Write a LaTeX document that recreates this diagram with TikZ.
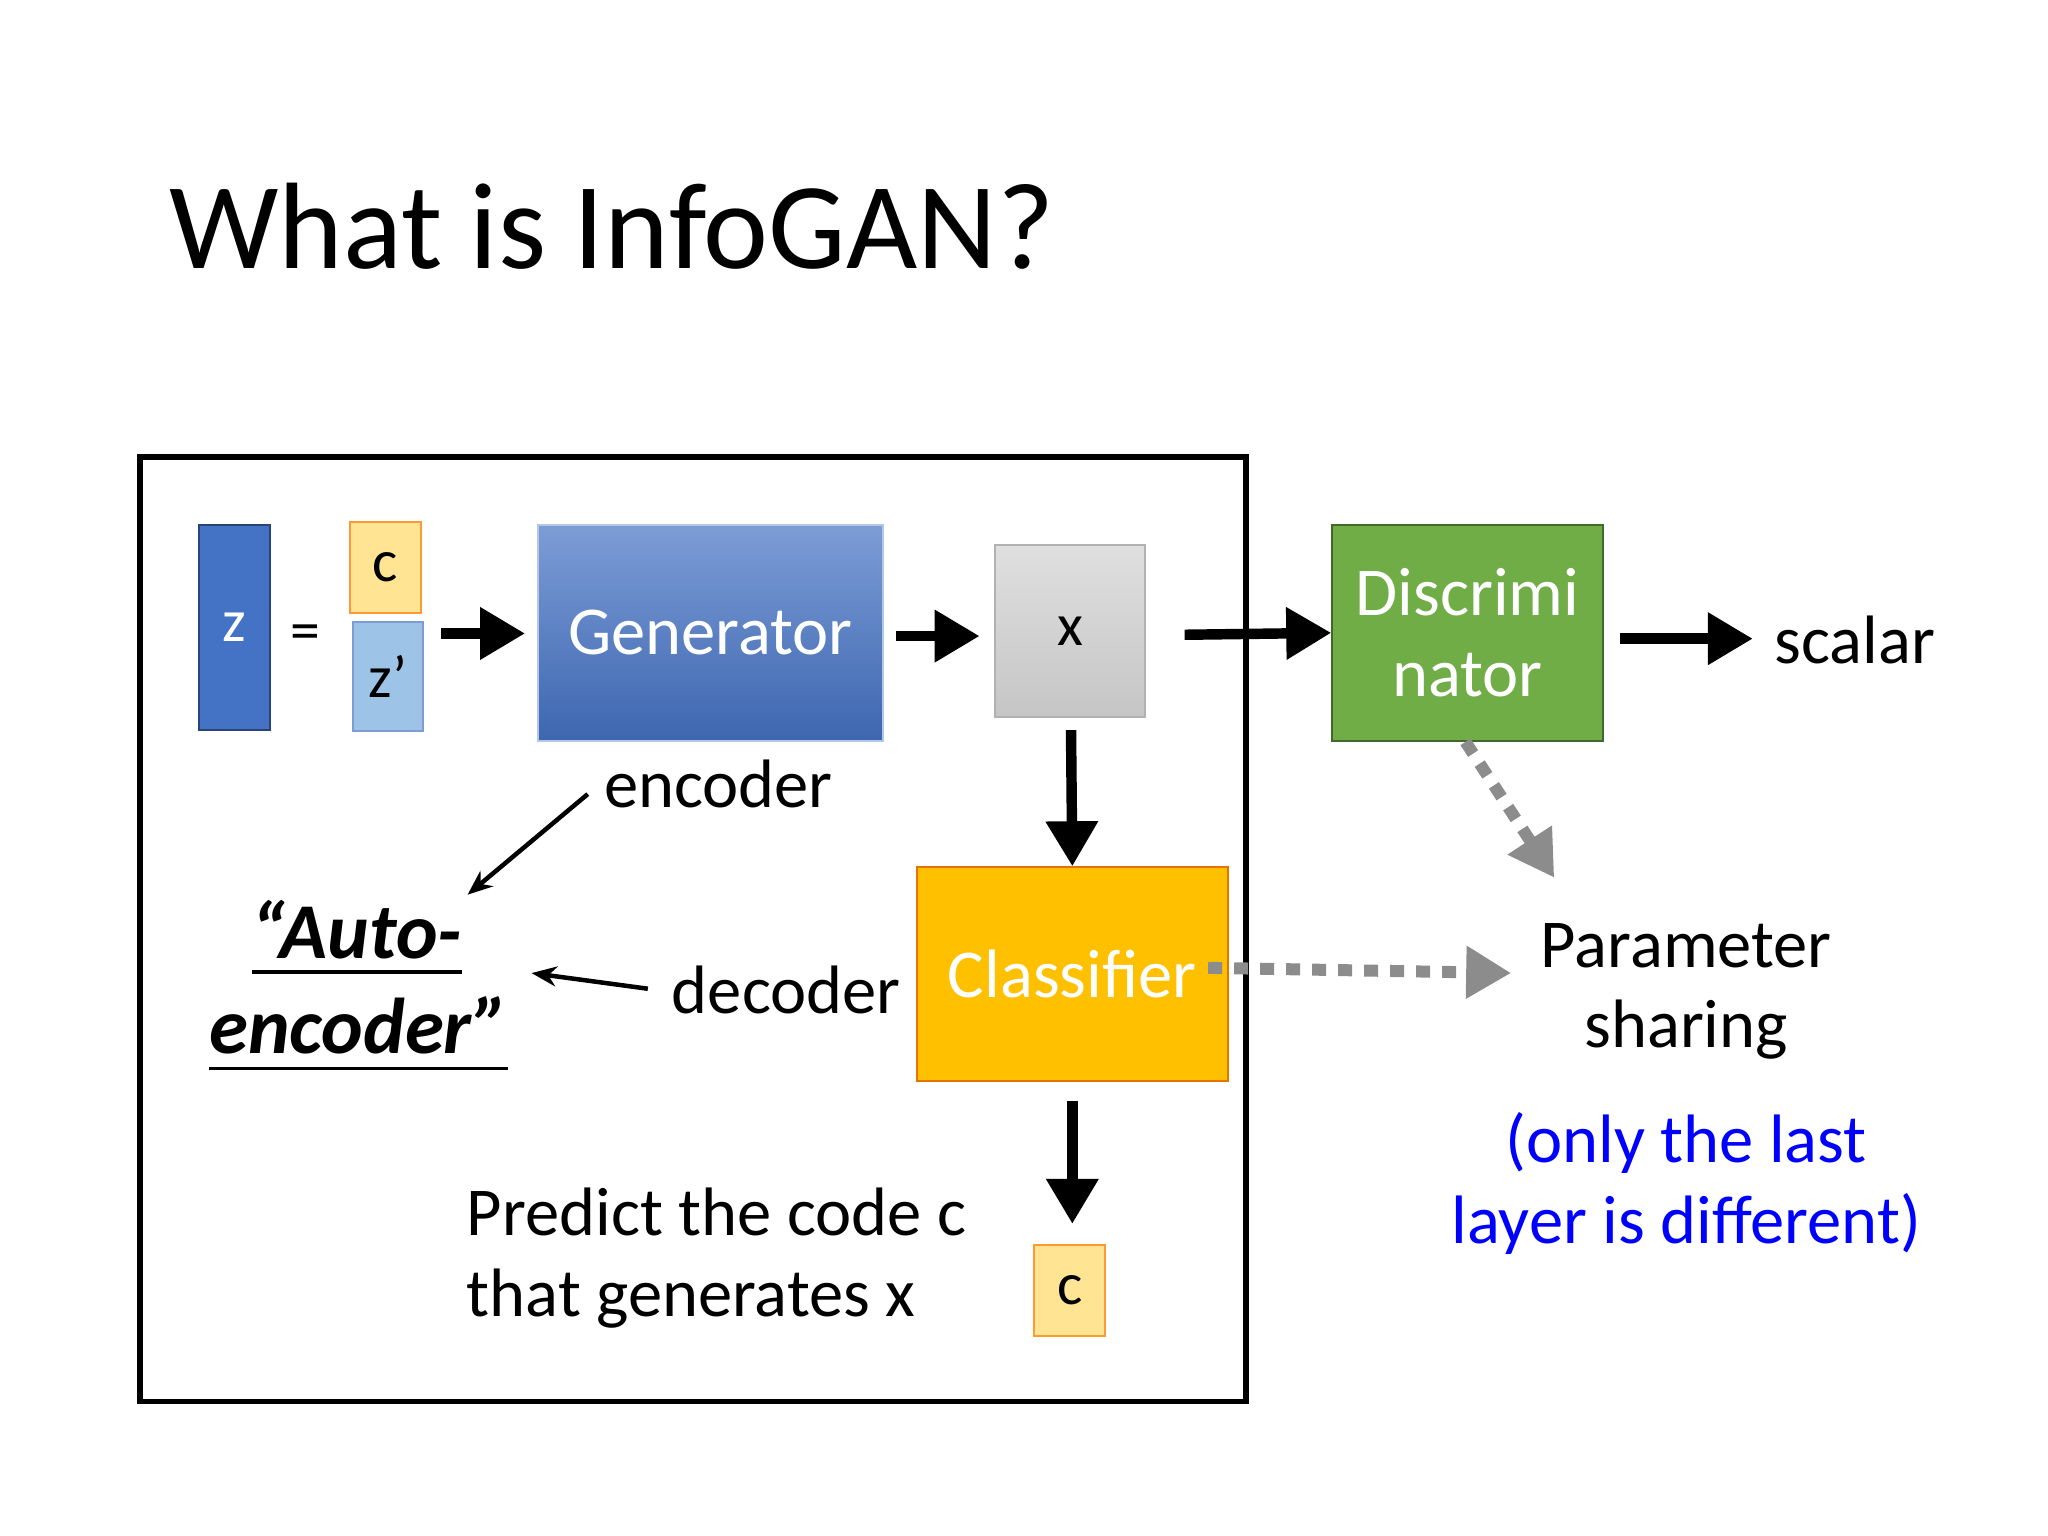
\documentclass[tikz,border=0pt]{standalone}
\usepackage{fontspec}
\setmainfont{Carlito}
\usetikzlibrary{arrows.meta}
\definecolor{zblue}{HTML}{4472C4}
\definecolor{lblue}{HTML}{9DC3E6}
\definecolor{lorange}{HTML}{FFD966}
\definecolor{dgreen}{HTML}{70AD47}
\definecolor{gold}{HTML}{FFC000}
\tikzset{
  every node/.style={font=\fontsize{17}{20}\selectfont},
  big/.style={font=\fontsize{19.5}{23}\selectfont},
  box/.style={draw, line width=0.02cm, inner sep=0},
  fat/.style={line width=0.1045cm, -{Triangle[length=0.45cm,width=0.5cm]}},
  thin/.style={line width=0.045cm, -{Stealth[length=0.25cm,width=0.2cm]}},
  dots/.style={gray!90, line width=0.12cm, dash pattern=on 0.14cm off 0.12cm, -{Triangle[length=0.45cm,width=0.5cm]}},
}
\begin{document}
\begin{tikzpicture}[x=0.013061cm,y=-0.013061cm]
\useasboundingbox (0,0) rectangle (1568,1176);
\node[anchor=west,font=\fontsize{35}{40}\selectfont] (title) at (120,173) {What is InfoGAN?};
\draw[line width=0.055cm] (107,350) rectangle (954,1073);
\node[box,draw=zblue!60!black,fill=zblue,minimum width=55*0.013061cm,minimum height=157*0.013061cm,text=white] (z) at (179.5,480.5) {z};
\node (eq) at (234,488) {=};
\node[box,draw=orange!80,fill=lorange!70,minimum width=54*0.013061cm,minimum height=69*0.013061cm] (c1) at (295,434.5) {c};
\node[box,draw=zblue!70,fill=lblue,minimum width=54*0.013061cm,minimum height=84*0.013061cm] (zp) at (297,518) {z’};
\node[big,box,draw=zblue!40,top color=zblue!70!white,bottom color=zblue!90!black,minimum width=264*0.013061cm,minimum height=165*0.013061cm,text=white] (gen) at (544,484.5) {Generator};
\node[box,draw=gray!60,top color=gray!25,bottom color=gray!45,minimum width=115*0.013061cm,minimum height=132*0.013061cm] (x) at (819.5,483) {x};
\node[box,draw=dgreen!60!black,fill=dgreen,minimum width=207*0.013061cm,minimum height=165*0.013061cm,text=white,align=center,font=\fontsize{19.5}{23}\selectfont] (dis) at (1123.5,484.5) {Discrimi\\nator};
\node[big] (scalar) at (1420,490) {scalar};
\node[big,box,draw=orange!90!black,fill=gold,minimum width=238*0.013061cm,minimum height=164*0.013061cm,text=white] (cls) at (821,746) {Classifier};
\node[box,draw=orange!80,fill=lorange!70,minimum width=54*0.013061cm,minimum height=70*0.013061cm] (c2) at (819,988) {c};
\node[big] (enc) at (550,600) {encoder};
\node[big] (dec) at (602,758) {decoder};
\node[font=\bfseries\itshape\fontsize{22.5}{26}\selectfont] (auto1) at (273,712) {“Auto-};
\node[font=\bfseries\itshape\fontsize{22.5}{26}\selectfont] (auto2) at (275,785) {encoder”};
\draw[line width=0.035cm] (193,744) -- (354,744) (160,818) -- (389,818);
\node[anchor=west,align=left,font=\fontsize{19.5}{23}\selectfont] (pred) at (348,963) {Predict the code c\\that generates x};
\node[align=center,font=\fontsize{19.5}{23}\selectfont] (ps) at (1291,759) {Parameter\\sharing};
\node[align=center,text=blue,font=\fontsize{19.5}{23}\selectfont] (only) at (1291,906) {(only the last\\layer is different)};
\coordinate (a1) at (338,485); \coordinate (a2) at (402,485);
\draw[fat] (a1) -- (a2);
\draw[fat] (686,487) coordinate (b1) -- (750,487) coordinate (b2);
\draw[fat] (907,486) coordinate (d1) -- (dis.west);
\draw[fat] (1240,489) coordinate (s1) -- (1342,489) coordinate (s2);
\draw[fat] (820,559) coordinate (x1) -- (cls.north);
\draw[fat] (821,843) coordinate (k1) -- (821,937) coordinate (k2);
\draw[thin] (450,608) coordinate (e1) -- (358,685) coordinate (e2);
\draw[thin] (496,757) coordinate (f1) -- (407,745) coordinate (f2);
\draw[dots] (925,741) coordinate (g1) -- (1157,745) coordinate (g2);
\draw[dots] (1122,568) coordinate (h1) -- (1190,672) coordinate (h2);
\end{tikzpicture}
\end{document}
